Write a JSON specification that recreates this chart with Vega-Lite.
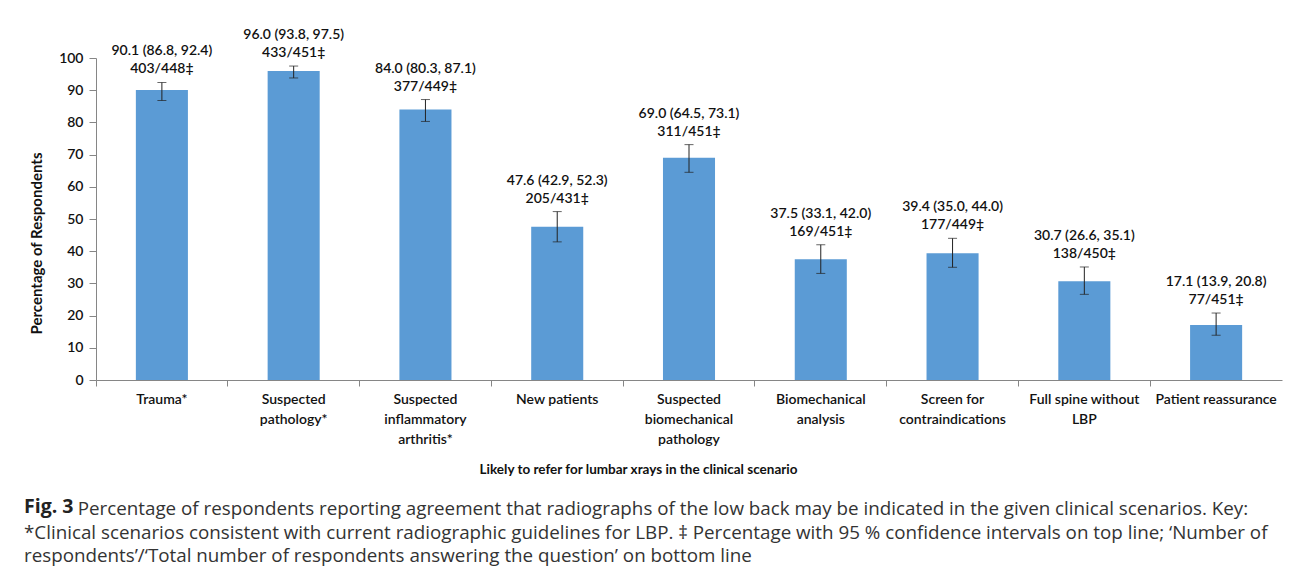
{
  "$schema": "https://vega.github.io/schema/vega-lite/v6.json",
  "autosize": {"type": "none"},
  "width": 1186,
  "height": 322,
  "padding": {"left": 96, "top": 58, "right": 10, "bottom": 200},
  "background": "white",
  "config": {
    "view": {"stroke": null},
    "font": "Lato",
    "axis": {"grid": false, "domainColor": "#868686", "tickColor": "#868686", "labelColor": "#111", "titleColor": "#111"}
  },
  "title": {
    "text": "Fig. 3",
    "subtitle": [
      "\u200d\u00a0\u00a0\u00a0\u00a0\u00a0\u00a0\u00a0\u00a0\u00a0\u00a0\u00a0Percentage of respondents reporting agreement that radiographs of the low back may be indicated in the given clinical scenarios. Key:",
      "*Clinical scenarios consistent with current radiographic guidelines for LBP. \u2021 Percentage with 95 % confidence intervals on top line; \u2018Number of",
      "respondents\u2019/\u2018Total number of respondents answering the question\u2019 on bottom line"
    ],
    "orient": "bottom",
    "anchor": "start",
    "frame": "group",
    "dx": -72,
    "offset": 22,
    "font": "Open Sans",
    "fontSize": 19.5,
    "fontWeight": "bold",
    "color": "#222",
    "subtitleFont": "Open Sans",
    "subtitleFontSize": 18.8,
    "subtitleColor": "#333",
    "subtitleLineHeight": 23.5,
    "subtitlePadding": -17
  },
  "data": {
    "values": [
      {"scenario": "Trauma*", "pct": 90.1, "lo": 86.8, "hi": 92.4, "ci": "90.1 (86.8, 92.4)", "n": "403/448\u2021"},
      {"scenario": "Suspected|pathology*", "pct": 96.0, "lo": 93.8, "hi": 97.5, "ci": "96.0 (93.8, 97.5)", "n": "433/451\u2021"},
      {"scenario": "Suspected|inflammatory|arthritis*", "pct": 84.0, "lo": 80.3, "hi": 87.1, "ci": "84.0 (80.3, 87.1)", "n": "377/449\u2021"},
      {"scenario": "New patients", "pct": 47.6, "lo": 42.9, "hi": 52.3, "ci": "47.6 (42.9, 52.3)", "n": "205/431\u2021"},
      {"scenario": "Suspected|biomechanical|pathology", "pct": 69.0, "lo": 64.5, "hi": 73.1, "ci": "69.0 (64.5, 73.1)", "n": "311/451\u2021"},
      {"scenario": "Biomechanical|analysis", "pct": 37.5, "lo": 33.1, "hi": 42.0, "ci": "37.5 (33.1, 42.0)", "n": "169/451\u2021"},
      {"scenario": "Screen for|contraindications", "pct": 39.4, "lo": 35.0, "hi": 44.0, "ci": "39.4 (35.0, 44.0)", "n": "177/449\u2021"},
      {"scenario": "Full spine without|LBP", "pct": 30.7, "lo": 26.6, "hi": 35.1, "ci": "30.7 (26.6, 35.1)", "n": "138/450\u2021"},
      {"scenario": "Patient reassurance", "pct": 17.1, "lo": 13.9, "hi": 20.8, "ci": "17.1 (13.9, 20.8)", "n": "77/451\u2021"}
    ]
  },
  "layer": [
    {
      "mark": {"type": "bar", "color": "#5B9BD5", "width": {"band": 0.395}},
      "encoding": {
        "x": {"field": "scenario", "type": "nominal", "sort": null,
          "scale": {"paddingInner": 0, "paddingOuter": 0},
          "axis": {"labelExpr": "split(datum.label, '|')", "labelAngle": 0, "labelFontSize": 14, "labelFontWeight": 600, "labelPadding": 12, "labelLineHeight": 20, "labelBaseline": "top", "ticks": false, "domain": false, "labelLimit": 200,
            "title": "Likely to refer for lumbar xrays in the clinical scenario", "titleFontSize": 13.5, "titleFontWeight": "bold", "titleX": 542, "titleY": 93, "titleBaseline": "alphabetic", "titleAnchor": "middle", "titleAlign": "center"}},
        "y": {"field": "pct", "type": "quantitative",
          "scale": {"domain": [0, 100], "nice": false},
          "axis": {"values": [0, 10, 20, 30, 40, 50, 60, 70, 80, 90, 100], "labelOverlap": false, "tickSize": 7, "labelPadding": 6, "labelFontSize": 14, "labelFontWeight": 600,
            "title": "Percentage of Respondents", "titleFontSize": 15, "titleFontWeight": "bold", "titleX": -52, "titleY": 185, "titleAnchor": "middle", "titleAlign": "center"}}
      }
    },
    {
      "mark": {"type": "rule", "color": "#222", "strokeWidth": 1},
      "encoding": {
        "x": {"field": "scenario", "type": "nominal", "sort": null,
          "axis": {"bandPosition": 0, "labels": false, "domain": true, "ticks": true, "tickSize": 6, "title": null, "orient": "bottom"}},
        "y": {"field": "lo", "type": "quantitative", "axis": null},
        "y2": {"field": "hi"}
      }
    },
    {
      "mark": {"type": "tick", "color": "#222", "thickness": 1, "size": 9, "orient": "horizontal"},
      "encoding": {
        "x": {"field": "scenario", "type": "nominal", "sort": null, "axis": null},
        "y": {"field": "lo", "type": "quantitative", "axis": null}
      }
    },
    {
      "mark": {"type": "tick", "color": "#222", "thickness": 1, "size": 9, "orient": "horizontal"},
      "encoding": {
        "x": {"field": "scenario", "type": "nominal", "sort": null, "axis": null},
        "y": {"field": "hi", "type": "quantitative", "axis": null}
      }
    },
    {
      "mark": {"type": "text", "baseline": "alphabetic", "dy": -9, "fontSize": 14, "fontWeight": 600, "color": "#111"},
      "encoding": {
        "x": {"field": "scenario", "type": "nominal", "sort": null, "axis": null},
        "y": {"field": "hi", "type": "quantitative", "axis": null},
        "text": {"field": "n"}
      }
    },
    {
      "mark": {"type": "text", "baseline": "alphabetic", "dy": -27, "fontSize": 14, "fontWeight": 600, "color": "#111"},
      "encoding": {
        "x": {"field": "scenario", "type": "nominal", "sort": null, "axis": null},
        "y": {"field": "hi", "type": "quantitative", "axis": null},
        "text": {"field": "ci"}
      }
    }
  ],
  "resolve": {"axis": {"x": "independent", "y": "independent"}}
}
